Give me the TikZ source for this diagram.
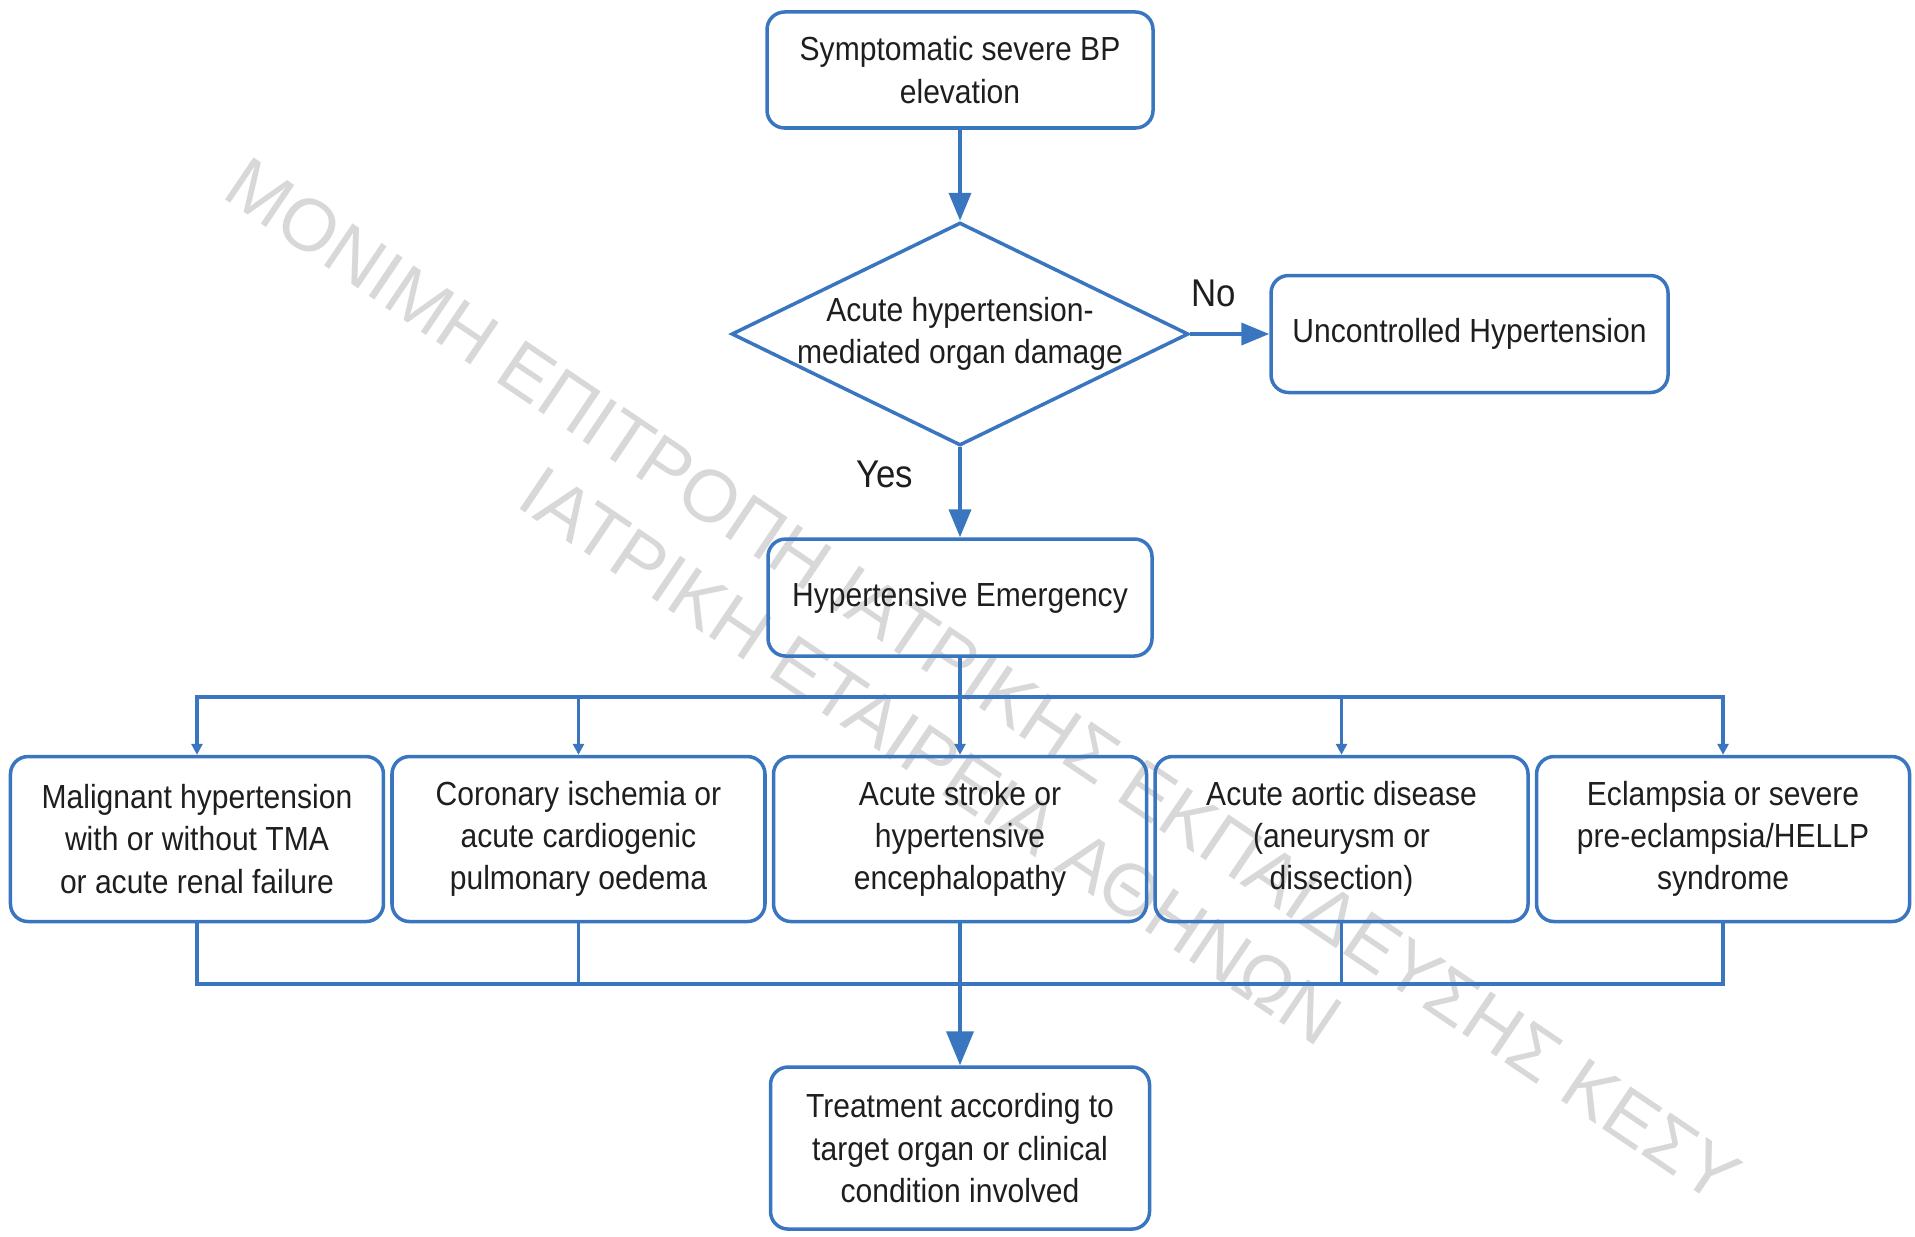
\documentclass[tikz,border=0pt]{standalone}
\usepackage{fontspec}
\setmainfont{Liberation Sans}[FakeStretch=0.9]
\newfontfamily\wmfont{Liberation Sans}
\usepackage{xcolor}
\usepackage{tikz}
\usetikzlibrary{
  positioning, arrows.meta, shapes.geometric, calc, backgrounds
}
\definecolor{hblue}{HTML}{3A76C0}
\definecolor{htext}{HTML}{1E1E1E}
\definecolor{hwater}{HTML}{D8D8D8}

\begin{document}
\begin{tikzpicture}[
  box/.style={
    rectangle, rounded corners=5pt, draw=hblue, line width=1pt,
    align=center, text=htext, font=\fontsize{9.5}{12}\selectfont,
    minimum width=3.84cm, minimum height=1.17cm, inner sep=2pt
  },
  cond/.style={box, minimum width=3.73cm, minimum height=1.65cm},
  decision/.style={
    diamond, draw=hblue, line width=1pt, inner sep=0pt,
    minimum width=4.57cm, minimum height=2.23cm
  },
  arrow/.style={-{Triangle[length=0.28cm, width=0.22cm]}, line width=1.1pt, hblue},
  bigarrow/.style={arrow, -{Triangle[length=0.34cm, width=0.27cm]}},
  drop/.style={-{Triangle[length=0.11cm, width=0.11cm]}, line width=1pt, hblue},
  conn/.style={line width=1.1pt, hblue, line cap=rect},
  lbl/.style={font=\fontsize{11}{13}\selectfont, text=htext, inner sep=0pt},
  wmark/.style={font=\wmfont\fontsize{21}{24}\selectfont, text=hwater, rotate=-34},
]
\useasboundingbox (0,0) rectangle (19.15,-12.36);

% --- Row 1: Presentation and decision ---
\node[box, minimum width=3.86cm, minimum height=1.16cm] (bp) at (9.60,-0.70)
  {Symptomatic severe BP\\elevation};
\node[decision, below=0.91cm of bp,
      label={[font=\fontsize{9.5}{12}\selectfont, text=htext, align=center]center:
        Acute hypertension-\\mediated organ damage}] (hmod) {};
\node[box, right=0.79cm of hmod, minimum width=3.97cm] (unc)
  {Uncontrolled Hypertension};
\node[box, below=0.90cm of hmod] (he) {Hypertensive Emergency};

% --- Row 2: Clinical conditions ---
\node[cond, below=0.97cm of he] (c3) {Acute stroke or\\hypertensive\\encephalopathy};
\node[cond, left=0.05cm of c3] (c2) {Coronary ischemia or\\acute cardiogenic\\pulmonary oedema};
\node[cond, left=0.05cm of c2] (c1) {Malignant hypertension\\with or without TMA\\or acute renal failure};
\node[cond, right=0.05cm of c3] (c4) {Acute aortic disease\\(aneurysm or\\dissection)};
\node[cond, right=0.05cm of c4] (c5) {Eclampsia or severe\\pre-eclampsia/HELLP\\syndrome};

% --- Row 3: Treatment ---
\node[box, below=1.42cm of c3, minimum width=3.79cm, minimum height=1.62cm] (treat)
  {Treatment according to\\target organ or clinical\\condition involved};

% --- Arrows ---
\draw[arrow] (bp) -- (hmod);
\draw[arrow] (hmod.east) -- node[lbl, above=0.25cm, pos=0.3] (no) {No} (unc.west);
\draw[arrow] (hmod.south) -- node[lbl, left=0.45cm, pos=0.3] (yes) {Yes} (he.north);

\coordinate (busA) at ($(he.south)+(0,-0.39)$);
\coordinate (busB) at ($(c3.south)+(0,-0.61)$);
\draw[conn] (he.south) -- (busA);
\draw[conn] (c1.north |- busA) -- (c5.north |- busA);
\foreach \i in {1,...,5}
  \draw[drop] (c\i.north |- busA) -- (c\i.north);
\foreach \i in {1,...,5}
  \draw[conn] (c\i.south) -- (c\i.south |- busB);
\draw[conn] (c1.south |- busB) -- (c5.south |- busB);
\draw[bigarrow] (c3.south) -- (treat.north);

% --- Watermark ---
\begin{scope}[on background layer]
  \node[wmark] (wm1) at (9.83,-6.80) {ΜΟΝΙΜΗ ΕΠΙΤΡΟΠΗ ΙΑΤΡΙΚΗΣ ΕΚΠΑΙΔΕΥΣΗΣ ΚΕΣΥ};
  \node[wmark] (wm2) at (9.31,-7.56) {ΙΑΤΡΙΚΗ ΕΤΑΙΡΕΙΑ ΑΘΗΝΩΝ};
\end{scope}

\end{tikzpicture}
\end{document}
